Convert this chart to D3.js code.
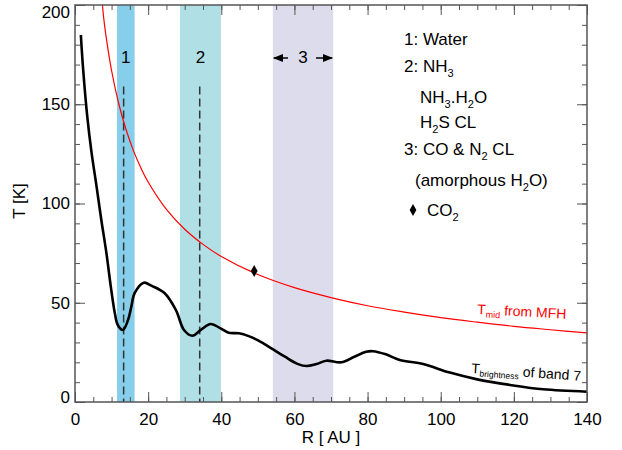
<!DOCTYPE html>
<html>
<head>
<meta charset="utf-8">
<title>T profile</title>
<script src="https://cdn.jsdelivr.net/npm/d3@7"></script>
<style>
  body { margin: 0; background: #fff; }
  text { font-family: "Liberation Sans", Arial, sans-serif; }
</style>
</head>
<body>
<div id="chart"></div>
<script>
// brightness temperature of band 7 (black)
var rBright = [1.6, 2.25, 3.4, 4.5, 5.9, 7.2, 8.6, 9.8, 10.9, 11.7, 13.1, 14.5, 15.4, 16.3, 18.8, 21, 24.4, 27.6, 29.8, 32.1, 34.4, 37.1, 39.8, 42, 44.8, 47.5, 50.2, 53.7, 57.4, 61, 63.3, 66, 68.7, 72.8, 76.4, 79.6, 81.5, 85, 88.8, 95.2, 102.5, 110, 119, 128, 140];
var tBright = [184.9, 167, 143, 126, 108.5, 91.7, 74.9, 58, 44.7, 38.8, 36.3, 41.3, 48, 54.8, 60.1, 58.5, 55, 46.3, 36.3, 33.4, 36.3, 39.3, 37.1, 34.9, 34.6, 33.2, 30.9, 27, 22.8, 19.1, 18.1, 19.1, 20.8, 20, 22.8, 25.3, 25.6, 24, 21.2, 19.1, 14.8, 11.4, 8.6, 6.4, 5.2];

// midplane temperature from MFH (red)
var rMid = [7.5, 8, 9, 10, 12, 14, 16, 18, 20, 25, 30, 35, 40, 50, 60, 70, 80, 90, 100, 110, 120, 130, 140];
var tMid = [200, 191, 178, 167, 150, 137, 126.5, 118, 110.8, 97, 87, 79.4, 73.3, 64.2, 57.6, 52.6, 48.5, 45.3, 42.5, 40.2, 38.1, 36.4, 34.8];

// condensation zones
var bandStart = [11.5, 28.7, 54.1];
var bandEnd = [16.3, 39.9, 70.6];
var bandColors = ["#87ceeb", "#b0e0e6", "#dcdcec"];
var bandLabels = ["1", "2", "3"];
var iceLineR = [13.3, 34.1];
var iceLineTop = 159;

var co2R = 49.0, co2T = 66;

var xTicks = [0, 20, 40, 60, 80, 100, 120, 140];
var yTicks = [0, 50, 100, 150, 200];

var w = 622, h = 450;
var margin = {left: 75, right: 35, top: 5, bottom: 48};

var svg = d3.select("#chart").append("svg")
  .attr("width", w).attr("height", h);

var x = d3.scaleLinear().domain([0, 140]).range([margin.left, w - margin.right]);
var y = d3.scaleLinear().domain([0, 200]).range([h - margin.bottom, margin.top]);

// bands
svg.selectAll("rect.band")
  .data(bandStart)
  .enter().append("rect")
  .attr("class", "band")
  .attr("x", function (d) { return x(d); })
  .attr("y", y(200))
  .attr("width", function (d, i) { return x(bandEnd[i]) - x(d); })
  .attr("height", y(0) - y(200))
  .attr("fill", function (d, i) { return bandColors[i]; });

// band labels
svg.selectAll("text.blabel")
  .data(bandLabels)
  .enter().append("text")
  .attr("x", function (d, i) { return x((bandStart[i] + bandEnd[i]) / 2); })
  .attr("y", 63)
  .attr("text-anchor", "middle")
  .attr("font-size", 17)
  .text(function (d) { return d; });

// arrows on band 3
var arrowY = 58;
svg.append("defs").append("marker")
  .attr("id", "ah").attr("viewBox", "0 0 10 10")
  .attr("refX", 9).attr("refY", 5)
  .attr("markerWidth", 7).attr("markerHeight", 7)
  .attr("orient", "auto")
  .append("path").attr("d", "M0,1 L10,5 L0,9 Z").attr("fill", "#000");
var mid3 = x((bandStart[2] + bandEnd[2]) / 2);
svg.append("line")
  .attr("x1", mid3 - 15).attr("x2", x(bandStart[2]) + 1)
  .attr("y1", arrowY).attr("y2", arrowY)
  .attr("stroke", "#000").attr("stroke-width", 1.5)
  .attr("marker-end", "url(#ah)");
svg.append("line")
  .attr("x1", mid3 + 13).attr("x2", x(bandEnd[2]) - 1)
  .attr("y1", arrowY).attr("y2", arrowY)
  .attr("stroke", "#000").attr("stroke-width", 1.5)
  .attr("marker-end", "url(#ah)");

// dashed ice lines
svg.selectAll("line.ice")
  .data(iceLineR)
  .enter().append("line")
  .attr("x1", function (d) { return x(d); })
  .attr("x2", function (d) { return x(d); })
  .attr("y1", y(iceLineTop)).attr("y2", y(0))
  .attr("stroke", "#333").attr("stroke-width", 1.5)
  .attr("stroke-dasharray", "8,4");

// curves
var midPts = rMid.map(function (d, i) { return [d, tMid[i]]; });
var brPts = rBright.map(function (d, i) { return [d, tBright[i]]; });
var line = d3.line()
  .x(function (d) { return x(d[0]); })
  .y(function (d) { return y(d[1]); })
  .curve(d3.curveCatmullRom.alpha(0.5));

svg.append("path")
  .attr("d", line(midPts))
  .attr("fill", "none").attr("stroke", "#ff0000").attr("stroke-width", 1.2);

svg.append("path")
  .attr("d", line(brPts))
  .attr("fill", "none").attr("stroke", "#000").attr("stroke-width", 2.6);

// CO2 point
svg.append("path")
  .attr("d", d3.symbol(d3.symbolDiamond, 40)())
  .attr("transform", "translate(" + x(co2R) + "," + y(co2T) + ")")
  .attr("fill", "#000");

// axes, ticks pointing in, mirrored on all sides
var axisColor = "#555";
var minorX = d3.range(0, 141, 5), minorY = d3.range(0, 201, 10);

function styleAxis(g) {
  g.select(".domain").remove();
  g.selectAll(".tick line").attr("stroke", axisColor);
  g.selectAll(".tick text").attr("font-size", 17).attr("fill", "#000")
    .attr("font-family", "Liberation Sans, Arial, sans-serif");
}

svg.append("g").attr("transform", "translate(0," + y(0) + ")")
  .call(d3.axisBottom(x).tickValues(xTicks).tickSize(-10).tickPadding(11))
  .call(styleAxis);
svg.append("g").attr("transform", "translate(0," + y(0) + ")")
  .call(d3.axisBottom(x).tickValues(minorX).tickSize(-5).tickFormat(""))
  .call(styleAxis);
svg.append("g").attr("transform", "translate(0," + y(200) + ")")
  .call(d3.axisTop(x).tickValues(xTicks).tickSize(-10).tickFormat(""))
  .call(styleAxis);
svg.append("g").attr("transform", "translate(0," + y(200) + ")")
  .call(d3.axisTop(x).tickValues(minorX).tickSize(-5).tickFormat(""))
  .call(styleAxis);
var yAx = svg.append("g").attr("transform", "translate(" + x(0) + ",0)")
  .call(d3.axisLeft(y).tickValues(yTicks).tickSize(-10).tickPadding(5))
  .call(styleAxis);
// end labels are kept inside the frame height
yAx.selectAll(".tick text").attr("dy", function (d) {
  return d === 200 ? "0.75em" : d === 0 ? "0.05em" : "0.32em";
});
svg.append("g").attr("transform", "translate(" + x(0) + ",0)")
  .call(d3.axisLeft(y).tickValues(minorY).tickSize(-5).tickFormat(""))
  .call(styleAxis);
svg.append("g").attr("transform", "translate(" + x(140) + ",0)")
  .call(d3.axisRight(y).tickValues(yTicks).tickSize(-10).tickFormat(""))
  .call(styleAxis);
svg.append("g").attr("transform", "translate(" + x(140) + ",0)")
  .call(d3.axisRight(y).tickValues(minorY).tickSize(-5).tickFormat(""))
  .call(styleAxis);

svg.append("rect")
  .attr("x", x(0)).attr("y", y(200))
  .attr("width", x(140) - x(0)).attr("height", y(0) - y(200))
  .attr("fill", "none").attr("stroke", axisColor).attr("stroke-width", 1.5);

// axis titles
svg.append("text")
  .attr("x", (x(0) + x(140)) / 2).attr("y", 443)
  .attr("text-anchor", "middle").attr("font-size", 17)
  .text("R [ AU ]");
svg.append("text")
  .attr("transform", "translate(25," + 201 + ") rotate(-90)")
  .attr("text-anchor", "middle").attr("font-size", 17)
  .text("T [K]");

// rich text with subscripts, parts: [text, shift, size]
function richText(px, py, parts, size, fill, rot) {
  var t = svg.append("text").attr("x", px).attr("y", py)
    .attr("font-size", size).attr("fill", fill || "#000");
  if (rot) t.attr("transform", "rotate(" + rot + "," + px + "," + py + ")");
  var shift = 0;
  parts.forEach(function (p) {
    var s = t.append("tspan").text(p[0]);
    var want = p[1] ? p[1] : 0;
    if (want !== shift) { s.attr("dy", want - shift); shift = want; }
    if (p[1]) s.attr("font-size", p[2] || size * 0.65);
  });
  return t;
}

richText(404, 45, [["1: Water"]], 17);
richText(404, 72, [["2: NH"], ["3", 5], [""]], 17);
richText(420, 103, [["NH"], ["3", 5], [".H"], ["2", 5], ["O"]], 17);
richText(420, 128, [["H"], ["2", 5], ["S CL"]], 17);
richText(404, 155, [["3: CO & N"], ["2", 5], [" CL"]], 17);
richText(415, 186, [["(amorphous H"], ["2", 5], ["O)"]], 17);
richText(427, 216, [["CO"], ["2", 5]], 17);
svg.append("path")
  .attr("d", d3.symbol(d3.symbolDiamond, 40)())
  .attr("transform", "translate(413,210)")
  .attr("fill", "#000");

// curve labels
richText(477, 314, [["T"], ["mid", 3, 9], [" from MFH"]], 14, "#ff0000", 3);
richText(471, 373, [["T"], ["brightness", 3, 8.5], [" of band 7"]], 14, "#000", 4);
</script>
</body>
</html>
